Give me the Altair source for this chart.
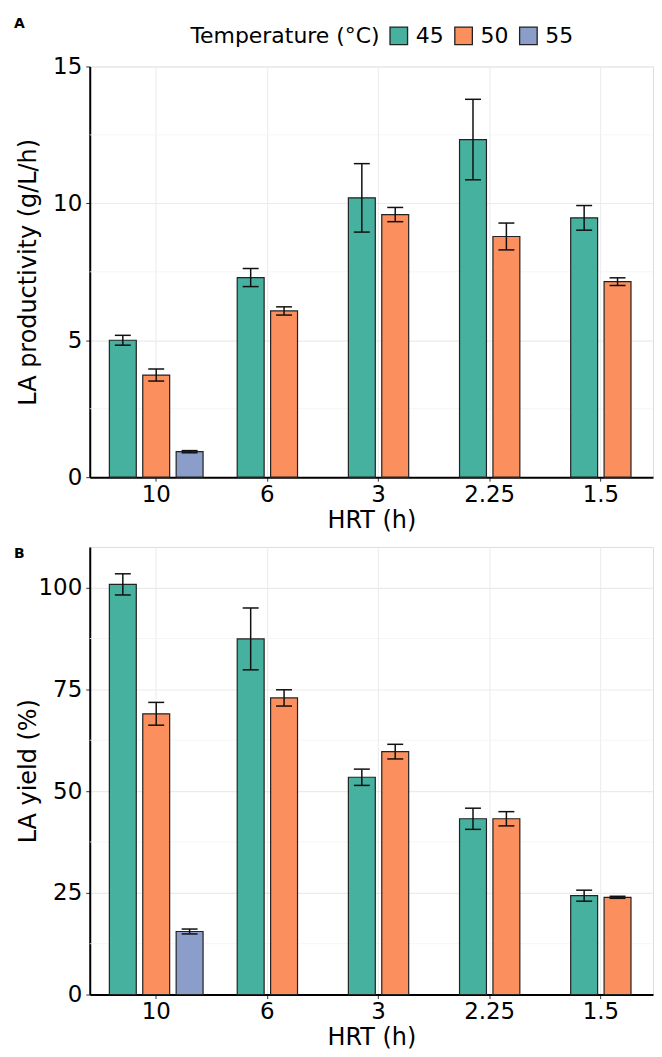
import altair as alt
import pandas as pd

# ---------------- data ----------------
hrt = ["10", "6", "3", "2.25", "1.5"]
temps = ["45", "50", "55"]
colors = ["#47B19F", "#FC8F5E", "#8B9EC9"]

prod_45 = [5.00, 7.29, 10.20, 12.33, 9.47]
prod_45_sd = [0.18, 0.33, 1.25, 1.47, 0.45]
prod_50 = [3.73, 6.07, 9.59, 8.79, 7.14]
prod_50_sd = [0.22, 0.15, 0.26, 0.49, 0.14]
prod_55 = [0.93]          # only at HRT 10 h
prod_55_sd = [0.04]

yield_45 = [100.8, 87.4, 53.4, 43.2, 24.3]
yield_45_sd = [2.6, 7.6, 2.0, 2.6, 1.35]
yield_50 = [69.0, 72.9, 59.7, 43.2, 23.9]
yield_50_sd = [2.8, 2.0, 1.8, 1.75, 0.25]
yield_55 = [15.5]         # only at HRT 10 h
yield_55_sd = [0.6]

prod_ticks = [0, 5, 10, 15]
prod_minor = [2.5, 7.5, 12.5]
yield_ticks = [0, 25, 50, 75, 100]
yield_minor = [12.5, 37.5, 62.5, 87.5]

FONT = "DejaVu Sans"


def build(v45, s45, v50, s50, v55, s55):
    rows = []
    for i, h in enumerate(hrt):
        present = [("45", v45[i], s45[i]), ("50", v50[i], s50[i])]
        if i < len(v55):
            present.append(("55", v55[i], s55[i]))
        n = len(present)
        for j, (t, v, s) in enumerate(present):
            rows.append({"hrt": h, "temp": t, "val": v, "lo": v - s, "hi": v + s,
                         "off": j - (n - 1) / 2})
    return pd.DataFrame(rows)


def panel(df, ytitle, ydomain, ticks, minor, height, label, show_legend):
    W = 565
    xscale = alt.Scale(domain=hrt, paddingInner=0.1, paddingOuter=0.0836, align=0.885)
    offscale = alt.Scale(domain=[-1.498, 1.498])
    yscale = alt.Scale(domain=ydomain, nice=False, zero=True)

    x_axis = alt.Axis(title="HRT (h)", labelAngle=0, grid=True, gridColor="#EBEBEB",
                      gridWidth=1, domainColor="black", domainWidth=2, tickColor="#333",
                      tickSize=4, labelPadding=2, labelFontSize=23, titleFontSize=24,
                      labelFont=FONT, titleFont=FONT, labelColor="black", titleColor="black",
                      titleFontWeight="normal", titlePadding=2, bandPosition=0.5)
    y_axis = alt.Axis(title=ytitle, values=ticks, grid=True, gridColor="#EBEBEB",
                      gridWidth=1.2, domainColor="black", domainWidth=2, tickColor="#333",
                      tickSize=4, labelPadding=4, labelFontSize=23, titleFontSize=24,
                      labelFont=FONT, titleFont=FONT, labelColor="black", titleColor="black",
                      titleFontWeight="normal", titleX=-49, titleY=height / 2,
                      titleAngle=270, titleBaseline="bottom", titleAlign="center")

    if show_legend:
        legend = alt.Legend(title="Temperature (°C)", orient="none", direction="horizontal",
                            titleOrient="left", legendX=101, legendY=-42, offset=0,
                            titleLimit=400, labelLimit=100,
                            symbolType="square", symbolSize=310, symbolStrokeColor="#222",
                            symbolStrokeWidth=1.3, symbolOpacity=1,
                            labelFontSize=22, titleFontSize=22, labelFont=FONT,
                            titleFont=FONT, titleFontWeight="normal", labelColor="black",
                            titleColor="black", columnPadding=8, symbolOffset=0,
                            labelOffset=6, titlePadding=8)
    else:
        legend = None

    base = alt.Chart(df)

    minor_grid = alt.Chart(pd.DataFrame({"m": minor})).mark_rule(
        color="#F3F3F3", strokeWidth=0.8).encode(y=alt.Y("m:Q", scale=yscale, axis=y_axis))

    bars = base.mark_bar(width=27, stroke="#222", strokeWidth=1.2, opacity=1).encode(
        x=alt.X("hrt:N", sort=hrt, scale=xscale, axis=x_axis),
        xOffset=alt.XOffset("off:Q", scale=offscale),
        y=alt.Y("val:Q", scale=yscale, axis=y_axis),
        color=alt.Color("temp:N", scale=alt.Scale(domain=temps, range=colors),
                        legend=legend),
    )
    err = base.mark_rule(color="#111", strokeWidth=1.5).encode(
        x=alt.X("hrt:N", sort=hrt, scale=xscale, axis=x_axis),
        xOffset=alt.XOffset("off:Q", scale=offscale),
        y=alt.Y("lo:Q", scale=yscale),
        y2="hi:Q",
    )
    cap_lo = base.mark_tick(color="#111", size=16, thickness=1.5, opacity=1).encode(
        x=alt.X("hrt:N", sort=hrt, scale=xscale, axis=x_axis),
        xOffset=alt.XOffset("off:Q", scale=offscale),
        y=alt.Y("lo:Q", scale=yscale),
    )
    cap_hi = base.mark_tick(color="#111", size=16, thickness=1.5, opacity=1).encode(
        x=alt.X("hrt:N", sort=hrt, scale=xscale, axis=x_axis),
        xOffset=alt.XOffset("off:Q", scale=offscale),
        y=alt.Y("hi:Q", scale=yscale),
    )
    lab_y = -50 if label == "A" else 0
    lab = alt.Chart(pd.DataFrame({"t": [label]})).mark_text(
        align="left", baseline="top", fontSize=14, fontWeight="bold", font=FONT,
        color="black").encode(text="t:N", x=alt.value(-76), y=alt.value(lab_y))

    return alt.layer(minor_grid, bars, err, cap_lo, cap_hi, lab).properties(
        width=W, height=height)


dfA = build(prod_45, prod_45_sd, prod_50, prod_50_sd, prod_55, prod_55_sd)
dfB = build(yield_45, yield_45_sd, yield_50, yield_50_sd, yield_55, yield_55_sd)

pA = panel(dfA, "LA productivity (g/L/h)", [0, 15], prod_ticks, prod_minor, 412, "A", True)
pB = panel(dfB, "LA yield (%)", [0, 110], yield_ticks, yield_minor, 449, "B", False)

chart = alt.vconcat(pA, pB, spacing=13).resolve_legend(color="independent").configure_view(
    stroke=None).configure(padding={"left": 5, "top": 6, "right": 0, "bottom": 0}).properties(
    background="white")

chart.save("out.html", embed_options={"renderer": "svg", "actions": False})
